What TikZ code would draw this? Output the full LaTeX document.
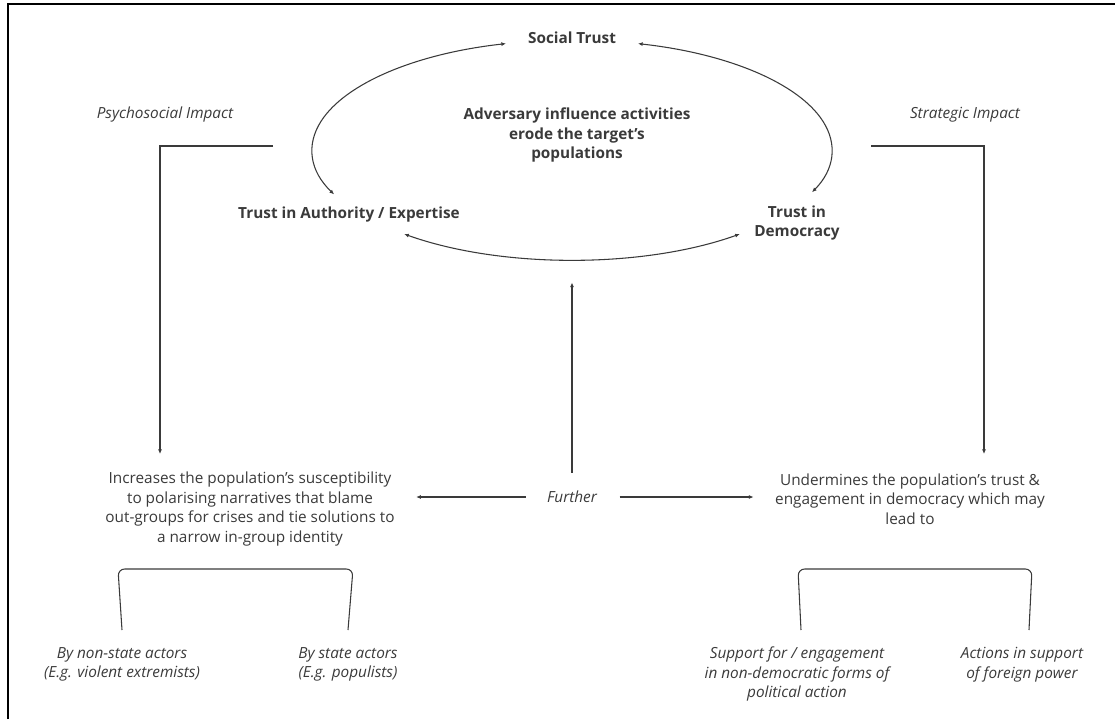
\documentclass[tikz,border=0pt]{standalone}
\usepackage{fontspec}
\setmainfont{Open Sans}
\usetikzlibrary{arrows.meta,calc}
\definecolor{ink}{HTML}{3A3A3A}
\tikzset{
  lbl/.style={text=ink, align=center, inner sep=1pt, font=\fontsize{11.5}{14.6}\selectfont},
  head/.style={lbl, font=\fontsize{11.5}{14.6}\selectfont\bfseries},
  side/.style={lbl, font=\fontsize{11.5}{14.6}\selectfont\itshape},
  link/.style={draw=ink, line width=0.8pt, -{Latex[length=3.5pt,width=3pt]}},
  twoway/.style={draw=ink, line width=0.8pt, {Latex[length=3.5pt,width=3pt]}-{Latex[length=3.5pt,width=3pt]}},
  brace/.style={draw=ink, line width=0.8pt, rounded corners=5pt}
}
\begin{document}
\begin{tikzpicture}[x=0.75pt,y=0.75pt]
\useasboundingbox (0,0) rectangle (1115,-719);
\draw[line width=1.5pt] (8,-719) -- (8,-4) -- (1115,-4);
%
\node[head] (st) at (572,-38) {Social Trust};
\node[head] (adv) at (577,-135) {Adversary influence activities\\erode the target's\\populations};
\node[head] (ta) at (349,-215) {Trust in Authority / Expertise};
\node[head] (td) at (797,-223) {Trust in\\Democracy};
\node[side] (psy) at (165,-115) {Psychosocial Impact};
\node[side] (str) at (965,-115) {Strategic Impact};
%
\coordinate (hub) at (572,-150);
\draw[twoway] ($(hub)+(104.7:260 and 110)$) arc[start angle=104.7, end angle=203.8, x radius=260, y radius=110];
\draw[twoway] ($(hub)+(75.3:260 and 110)$) arc[start angle=75.3, end angle=-22.6, x radius=260, y radius=110];
\draw[twoway] ($(hub)+(229.8:260 and 110)$) arc[start angle=229.8, end angle=310.2, x radius=260, y radius=110];
%
\coordinate (psy0) at (273,-146);
\coordinate (psy1) at (160,-454);
\coordinate (str0) at (871,-146);
\coordinate (str1) at (984,-454);
\draw[link] (psy0) -| (psy1);
\draw[link] (str0) -| (str1);
%
\node[lbl] (inc) at (250,-509) {Increases the population's susceptibility\\to polarising narratives that blame\\out-groups for crises and tie solutions to\\a narrow in-group identity};
\node[lbl] (und) at (910,-499) {Undermines the population's trust \&\\engagement in democracy which may\\lead to};
\node[side] (fur) at (572,-497) {Further};
\draw[link] ($(fur.north)+(0,17)$) -- ++(0,190);
\draw[link] ($(fur.west)+(-20,0)$) -- ($(fur.west -| inc.east)+(20,0)$);
\draw[link] ($(fur.east)+(21,0)$) -- ($(fur.east -| und.west)+(-20,0)$);
%
\draw[brace] (122,-630) -- (118,-569) -- (353,-569) -- (348,-630);
\draw[brace] (801,-630) -- (798,-569) -- (1032,-569) -- (1029,-630);
\node[side] (nsa) at (122,-664.5) {By non-state actors\\(E.g. violent extremists)};
\node[side] (sa) at (348,-664.5) {By state actors\\(E.g. populists)};
\node[side] (sup) at (797,-674) {Support for / engagement\\in non-democratic forms of\\political action};
\node[side] (act) at (1022,-664.5) {Actions in support\\of foreign power};
\end{tikzpicture}
\end{document}
